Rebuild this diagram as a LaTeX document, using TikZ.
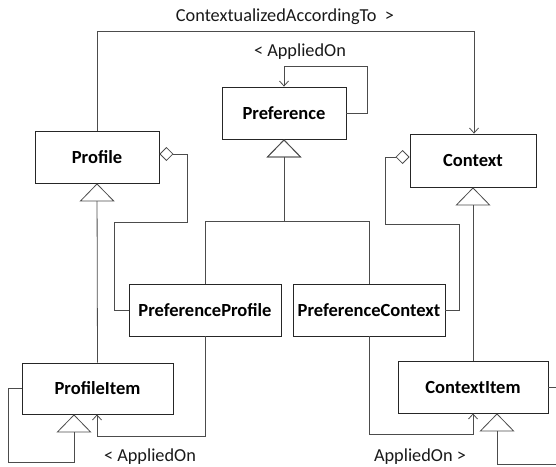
\documentclass[tikz,border=0pt]{standalone}
\usepackage{fontspec}
\setmainfont{Carlito}
\usepackage{tikz}
\usepackage{xcolor}
\usetikzlibrary{arrows.meta}

\colorlet{linkgray}{black!70}

\begin{document}
\begin{tikzpicture}[x=1pt, y=-1pt,
    class/.style={draw=black!85, line width=0.8pt, fill=white, inner sep=0pt,
      font=\fontsize{18.5}{21}\selectfont\bfseries},
    link/.style={draw=linkgray, line width=0.8pt},
    isa/.style={link, -{Triangle[open, length=18pt, width=35pt]}},
    partof/.style={link, -{Diamond[open, length=14pt, width=14pt]}},
    usesto/.style={link, -{Straight Barb[length=5pt, width=9pt]}},
    lbl/.style={font=\fontsize{18.3}{21}\selectfont, text=black!90}]
  \clip (0,0) rectangle (556,466);
  % === Klassene ===
  \node[class, minimum width=124pt, minimum height=52pt] (Preference) at (284,113) {Preference};
  \node[class, minimum width=124pt, minimum height=52pt] (Profile) at (97,157) {Profile};
  \node[class, minimum width=126pt, minimum height=53pt] (Context) at (473,160.5) {Context};
  \node[class, minimum width=152pt, minimum height=52pt] (PreferenceProfile) at (205,310) {PreferenceProfile};
  \node[class, minimum width=152pt, minimum height=52pt] (PreferenceContext) at (369,310) {PreferenceContext};
  \node[class, minimum width=151pt, minimum height=51pt] (ProfileItem) at (97.5,388.5) {ProfileItem};
  \node[class, minimum width=150pt, minimum height=52pt] (ContextItem) at (473,387) {ContextItem};
  % === Etiketter ===
  \node[lbl] (ctxTitle) at (285,17) {ContextualizedAccordingTo\ \ >};
  \node[lbl] (prefApplied) at (300,52) {< AppliedOn};
  \node[lbl] (profApplied) at (150,457) {< AppliedOn};
  \node[lbl] (ctxApplied) at (420,457) {AppliedOn >};
  % Profile -> Context (ovre linje)
  \draw[usesto] (Profile.north) -- ++(0,-99) -| ([xshift=1pt]Context.north);
  % Preference peker paa seg selv
  \draw[usesto] (Preference.east) -- ++(21,0) |- ([yshift=20pt]Preference.north) -- (Preference.north);
  % Arv mot Preference
  \draw[isa] (PreferenceProfile.north) -- ++(0,-62) -| (Preference.south);
  \draw[isa] (PreferenceContext.north) -- ++(0,-62) -| (Preference.south);
  % Aggregering mot Profile og Context
  \draw[partof] (PreferenceProfile.west) -- ++(-14,0) -- ++(0,-88) -- ++(73,0) |- ([yshift=3pt]Profile.east);
  \draw[partof] (PreferenceContext.east) -- ++(14,0) -- ++(0,-86) -- ++(-74,0) |- ([yshift=3.5pt]Context.west);
  % Arv Item -> hovedklasse
  \draw[isa] (ProfileItem.north) -- (Profile.south);
  \draw[isa] (ContextItem.north) -- (Context.south);
  % AppliedOn mot Item-klassene
  \draw[usesto] (PreferenceProfile.south) -- ++(0,100) -| ([xshift=-0.5pt]ProfileItem.south);
  \draw[usesto] (PreferenceContext.south) -- ++(0,98) -| (ContextItem.south);
  % Item-hierarkier (arv mot seg selv)
  \draw[isa] (ProfileItem.west) -- ++(-13,0) -- ++(0,74) -| ([xshift=-23.5pt]ProfileItem.south);
  \draw[isa] (ContextItem.east) -- ++(14,0) -- ++(0,77) -| ([xshift=24pt]ContextItem.south);
\end{tikzpicture}
\end{document}
